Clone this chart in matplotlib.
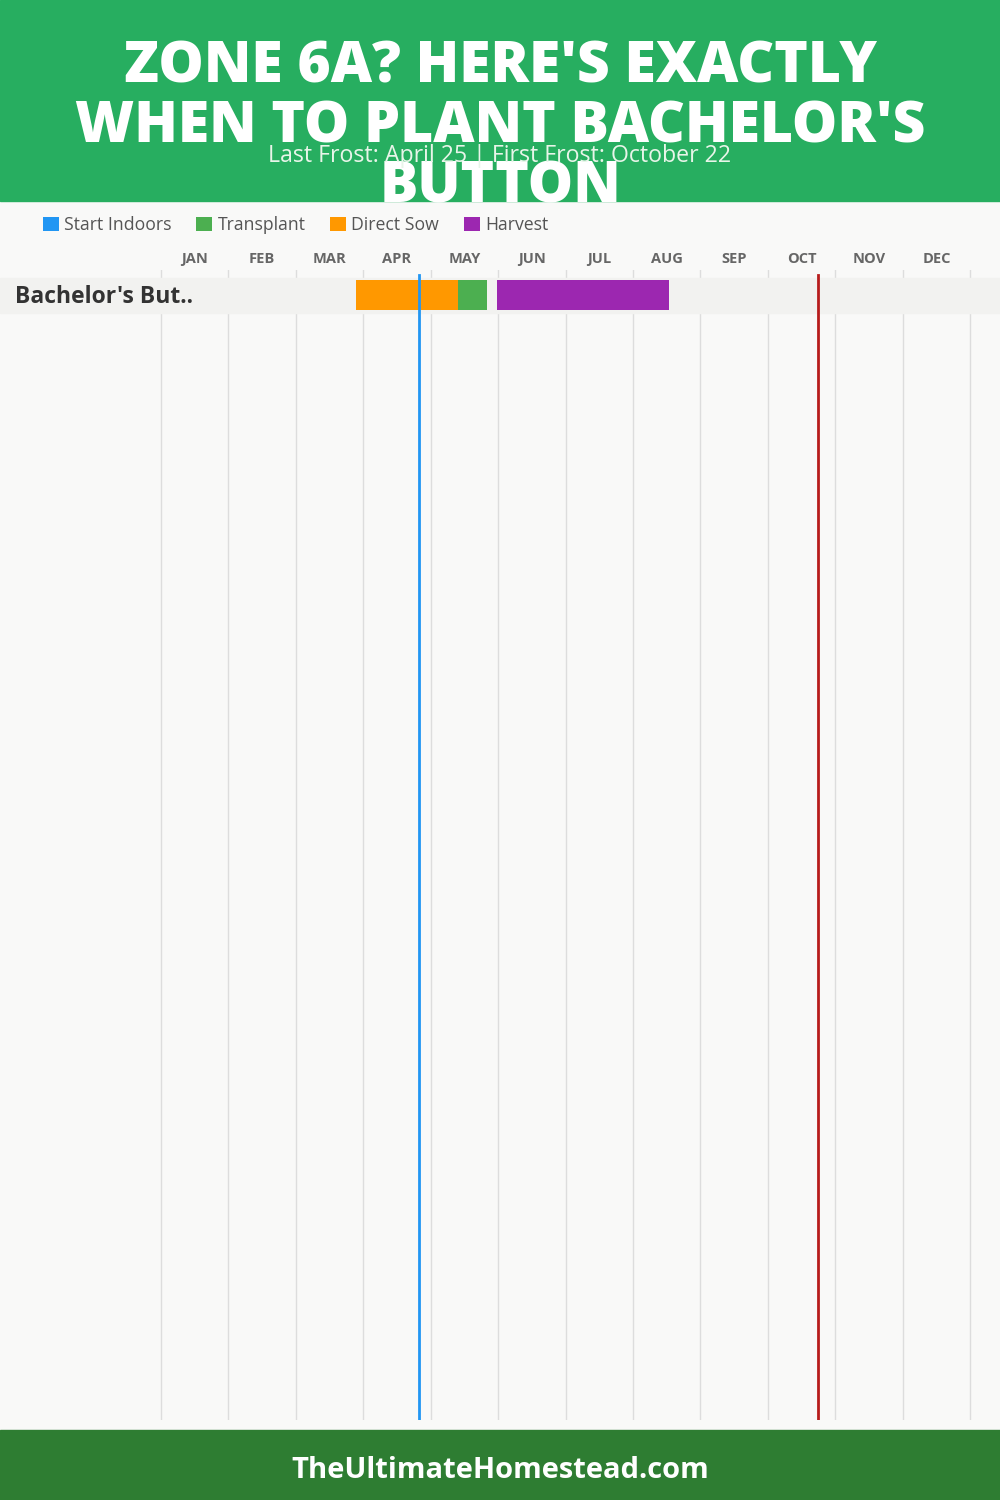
import matplotlib
matplotlib.use("Agg")
import matplotlib.pyplot as plt
from matplotlib.patches import Patch

# chart data (months as fractional positions, 0 = Jan 1)
months = ["JAN", "FEB", "MAR", "APR", "MAY", "JUN", "JUL", "AUG", "SEP", "OCT", "NOV", "DEC"]
plants = ["Bachelor's But.."]
direct_sow = [(2.90, 4.41)]
transplant = [(4.41, 4.84)]
harvest = [(4.98, 7.54)]
last_frost = 3.83
first_frost = 9.74

legend_names = ["Start Indoors", "Transplant", "Direct Sow", "Harvest"]
legend_colors = ["#2196f3", "#4caf50", "#ff9800", "#9c27b0"]

title_lines = ["ZONE 6A? HERE'S EXACTLY", "WHEN TO PLANT BACHELOR'S", "BUTTON"]
subtitle = "Last Frost: April 25 | First Frost: October 22"
footer = "TheUltimateHomestead.com"

FONT = "Open Sans"
W, H = 1000, 1500
fig = plt.figure(figsize=(10, 15), dpi=100)
fig.patch.set_facecolor("#f9f9f8")

# header and footer bands
fig.patches.append(plt.Rectangle((0, 1 - 201 / H), 1, 201 / H, transform=fig.transFigure,
                                 color="#27ae60", zorder=0))
fig.patches.append(plt.Rectangle((0, 0), 1, 70 / H, transform=fig.transFigure,
                                 color="#2e7d32", zorder=0))

for i, line in enumerate(title_lines):
    fig.text(0.5, 1 - (68 + 60 * i) / H, line, ha="center", va="center", color="white",
             fontsize=41, fontweight="heavy", family=FONT, zorder=3)
fig.text(0.5, 1 - 156 / H, subtitle, ha="center", va="center", color="#e8f5e9",
         fontsize=16.7, family=FONT, zorder=4)
fig.text(0.5, 1 - 1471 / H, footer, ha="center", va="center", color="white",
         fontsize=21, fontweight="bold", family=FONT)

# legend
handles = [Patch(facecolor=c, edgecolor="none") for c in legend_colors]
fig.legend(handles, legend_names, loc="center left", bbox_to_anchor=(0.027, 1 - 225 / H),
           ncol=4, frameon=False, handlelength=0.9, handleheight=0.9, handletextpad=0.3,
           columnspacing=1.4, prop={"family": FONT, "size": 12.7}, labelcolor="#555555")

# main chart area: y 270..1420 px, x covers the full width
top_px, bot_px = 270, 1420
ax = fig.add_axes([0, 1 - bot_px / H, 1, (bot_px - top_px) / H])
ax.set_facecolor("none")
month_px = (970.3 - 160.7) / 12
ax.set_xlim(-160.7 / month_px, (W - 160.7) / month_px)
ax.set_ylim(bot_px - top_px, 0)
ax.axis("off")

for m in range(13):
    ax.axvline(m, color="#dddddd", lw=1, zorder=1)
for m, name in enumerate(months):
    ax.text(m + 0.5, -11, name, ha="center", va="center", fontsize=10.5, fontweight="bold",
            color="#666666", family=FONT, clip_on=False)

row_h = 35
bar_h = 30
for i, name in enumerate(plants):
    yc = 25 + i * row_h
    ax.axhspan(yc - row_h / 2, yc + row_h / 2, color="#f2f2f0", zorder=2)
    ax.text(-160.7 / month_px + 15 / month_px, yc + 2, name, ha="left", va="center",
            fontsize=16.5, fontweight="bold", color="#333333", family=FONT, zorder=5)
    for spans, col in [(direct_sow, legend_colors[2]), (transplant, legend_colors[1]),
                       (harvest, legend_colors[3])]:
        s, e = spans[i]
        ax.barh(yc, e - s, left=s, height=bar_h, color=col, zorder=3)

ax.axvline(last_frost, ymin=0, ymax=(bot_px - 275) / (bot_px - top_px), color="#2196f3", lw=2, zorder=4)
ax.axvline(first_frost, ymin=0, ymax=(bot_px - 275) / (bot_px - top_px), color="#b71c1c", lw=2, zorder=4)

fig.savefig("out.png", dpi=100, facecolor=fig.get_facecolor())
